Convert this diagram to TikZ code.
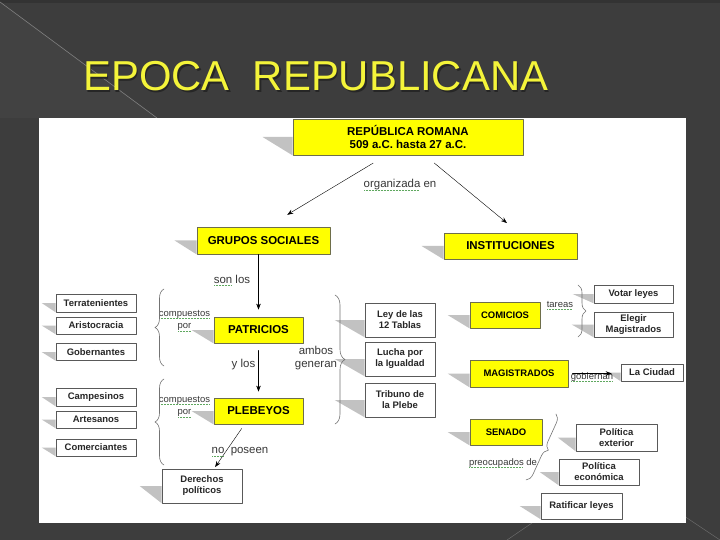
\documentclass[tikz,border=0pt]{standalone}
\usepackage{fontspec}
\setmainfont{Liberation Sans}
\usetikzlibrary{arrows.meta,decorations.pathreplacing}
\definecolor{bgdark}{HTML}{3D3D3D}
\definecolor{bglight}{HTML}{424242}
\definecolor{titleyellow}{HTML}{F4F43A}
\definecolor{boxyellow}{HTML}{FFFF00}
\definecolor{boxedge}{HTML}{6E6E4A}
\definecolor{shadowgray}{HTML}{C2C2C2}
\definecolor{labelgray}{HTML}{383838}
\definecolor{spellgreen}{HTML}{5FA85F}
\tikzset{
  ybox/.style={draw=boxedge, line width=0.8pt, fill=boxyellow, inner sep=0pt, align=center,
    font=\bfseries\fontsize{11.5}{13}\selectfont},
  ysmall/.style={ybox, font=\bfseries\fontsize{9.5}{11}\selectfont},
  wbox/.style={draw=black!65, line width=0.6pt, fill=white, inner sep=0pt, align=center,
    text=black!85, font=\bfseries\fontsize{9.5}{11}\selectfont},
  lbl/.style={inner sep=0pt, align=center, text=labelgray, font=\fontsize{11.5}{13}\selectfont},
  slbl/.style={lbl, font=\fontsize{9.5}{12.5}\selectfont},
  curly/.style={draw=black!55, line width=0.6pt, decorate},
}
\newcommand{\boxshadow}[2]{\fill[shadowgray] ([xshift=-#2]#1.west) -- (#1.west) -- (#1.south west) -- cycle;}
\newlength{\spellwd}
\newcommand{\spell}[1]{\setbox0=\hbox{#1}\spellwd=\wd0\relax\leavevmode
  \rlap{\raisebox{-2.5bp}[0pt][0pt]{\color{spellgreen}\leaders\hbox to 1.5bp{\hss\rule{0.75bp}{0.5bp}\hss}\hskip\spellwd}}\box0\relax}

\begin{document}
\begin{tikzpicture}[x=1bp, y=-1bp, line cap=round, line join=round, >={Stealth[length=6bp,width=4.5bp]}]
\useasboundingbox (0,0) rectangle (720,540);
% slide
\fill[bgdark] (0,0) rectangle (720,540);
\fill[bglight] (0,2) -- (157,118) -- (0,118) -- cycle;
\fill[black!80] (0,0) rectangle (720,3);
\draw[black!50, line width=0.6pt] (0,2) -- (157,118);
\draw[black!58, line width=0.5pt] (507,540) -- (532,523);
\draw[black!58, line width=0.5pt] (684,516) -- (720,540);
\fill[white] (39,118) rectangle (686,523);
\node[anchor=base west, inner sep=0pt, text=black!85, font=\fontsize{42}{42}\selectfont] (titleshadow) at (84.5,92.5) {EPOCA\ \ REPUBLICANA};
\node[anchor=base west, inner sep=0pt, text=titleyellow, font=\fontsize{42}{42}\selectfont] (title) at (83,91) {EPOCA\ \ REPUBLICANA};

% yellow boxes
\node[ybox, minimum width=230bp, minimum height=36bp] (rep) at (408,137) {REPÚBLICA ROMANA\\509 a.C. hasta 27 a.C.};
\node[ybox, minimum width=133bp, minimum height=27bp] (grupos) at (263.5,240.5) {GRUPOS SOCIALES};
\node[ybox, minimum width=133bp, minimum height=26bp] (inst) at (510.5,246) {INSTITUCIONES};
\node[ybox, minimum width=89bp, minimum height=26bp] (patricios) at (258.5,330) {PATRICIOS};
\node[ybox, minimum width=89bp, minimum height=26bp] (plebeyos) at (258.5,411) {PLEBEYOS};
\node[ysmall, minimum width=70bp, minimum height=26bp] (comicios) at (505,315) {COMICIOS};
\node[ysmall, minimum width=98bp, minimum height=27bp] (magis) at (519,373.5) {MAGISTRADOS};
\node[ysmall, minimum width=72bp, minimum height=26bp] (senado) at (506,432) {SENADO};

% white boxes
\node[wbox, minimum width=80bp, minimum height=18bp] (terra) at (96,303) {Terratenientes};
\node[wbox, minimum width=80bp, minimum height=17bp] (aristo) at (96,325.5) {Aristocracia};
\node[wbox, minimum width=80bp, minimum height=17bp] (gober) at (96,352) {Gobernantes};
\node[wbox, minimum width=80bp, minimum height=18bp] (campe) at (96,397) {Campesinos};
\node[wbox, minimum width=80bp, minimum height=17bp] (artes) at (96,419.5) {Artesanos};
\node[wbox, minimum width=80bp, minimum height=17bp] (comer) at (96,447.5) {Comerciantes};
\node[wbox, minimum width=70bp, minimum height=34bp] (ley) at (400,320) {Ley de las\\12 Tablas};
\node[wbox, minimum width=70bp, minimum height=34bp] (lucha) at (400,359) {Lucha por\\la Igualdad};
\node[wbox, minimum width=70bp, minimum height=34bp] (tribuno) at (400,400) {Tribuno de\\la Plebe};
\node[wbox, minimum width=80bp, minimum height=34bp] (derechos) at (202,486) {Derechos\\políticos};
\node[wbox, minimum width=79bp, minimum height=18bp] (votar) at (633.5,294) {Votar leyes};
\node[wbox, minimum width=79bp, minimum height=25bp] (elegir) at (633.5,324.5) {Elegir\\Magistrados};
\node[wbox, minimum width=62bp, minimum height=17bp] (ciudad) at (652,372.5) {La Ciudad};
\node[wbox, minimum width=81bp, minimum height=27bp] (pext) at (616.5,437.5) {Política\\exterior};
\node[wbox, minimum width=80bp, minimum height=26bp] (pecon) at (599,472) {Política\\económica};
\node[wbox, minimum width=81bp, minimum height=26bp] (ratif) at (581.5,506) {Ratificar leyes};

% shadows
\boxshadow{rep}{30bp}
\boxshadow{grupos}{22bp}
\boxshadow{inst}{22bp}
\boxshadow{patricios}{22bp}
\boxshadow{plebeyos}{22bp}
\boxshadow{comicios}{22bp}
\boxshadow{magis}{22bp}
\boxshadow{senado}{22bp}
\foreach \b in {terra,aristo,gober,campe,artes,comer}
  {\boxshadow{\b}{14bp}}
\foreach \b in {ley,lucha,tribuno}
  {\boxshadow{\b}{30bp}}
\boxshadow{derechos}{22bp}
\boxshadow{votar}{21bp}
\boxshadow{elegir}{22bp}
\boxshadow{ciudad}{13bp}
\boxshadow{pext}{18bp}
\boxshadow{pecon}{19bp}
\boxshadow{ratif}{21bp}

% labels
\node[lbl] (organizada) at (400,185) {\spell{organizada} en};
\node[lbl] (sonlos) at (232,279) {\spell{son} los};
\node[slbl] (comp1) at (184.5,320.5) {\spell{compuestos}\\\spell{por}};
\node[slbl] (comp2) at (184.5,406.5) {\spell{compuestos}\\\spell{por}};
\node[lbl] (ylos) at (243.5,365) {y los};
\node[lbl] (ambos) at (316,358.5) {ambos\\generan};
\node[lbl] (noposeen) at (240,452) {\spell{no}\ \ poseen};
\node[slbl] (tareas) at (560,304) {\spell{tareas}};
\node[slbl] (gobiernan) at (592,377) {\spell{gobiernan}};
\node[slbl] (preocup) at (503,463) {\spell{preocupados} de};

% connectors
\draw[->, shorten <=15bp, shorten >=23bp] ([xshift=-22bp]rep.south) -- ([xshift=4bp]grupos.north);
\draw[->, shorten <=12bp, shorten >=15bp] ([xshift=17bp]rep.south) -- ([xshift=8bp]inst.north);
\draw[->, shorten >=7bp] (grupos.south -| patricios.north) -- (patricios.north);
\draw[->, shorten <=7bp, shorten >=6bp] (patricios.south) -- (plebeyos.north);
\draw[->, shorten <=5bp, shorten >=2bp] ([xshift=-14bp]plebeyos.south) -- ([xshift=12bp]derechos.north);
\draw[->, shorten <=4bp, shorten >=9bp] (magis.east) -- (magis.east -| ciudad.west);

% braces
\draw[curly, decoration={brace, amplitude=9bp}] (164,366) -- (164,289);
\draw[curly, decoration={brace, amplitude=9bp}] (164,465) -- (164,379);
\draw[curly, decoration={brace, amplitude=10bp}] (335,295) -- (335,424);
\draw[curly, decoration={brace, amplitude=8bp}] (578,285) -- (578,337);
\draw[curly, decoration={brace, amplitude=8bp}] (556,414) -- (526,480);
\end{tikzpicture}
\end{document}
